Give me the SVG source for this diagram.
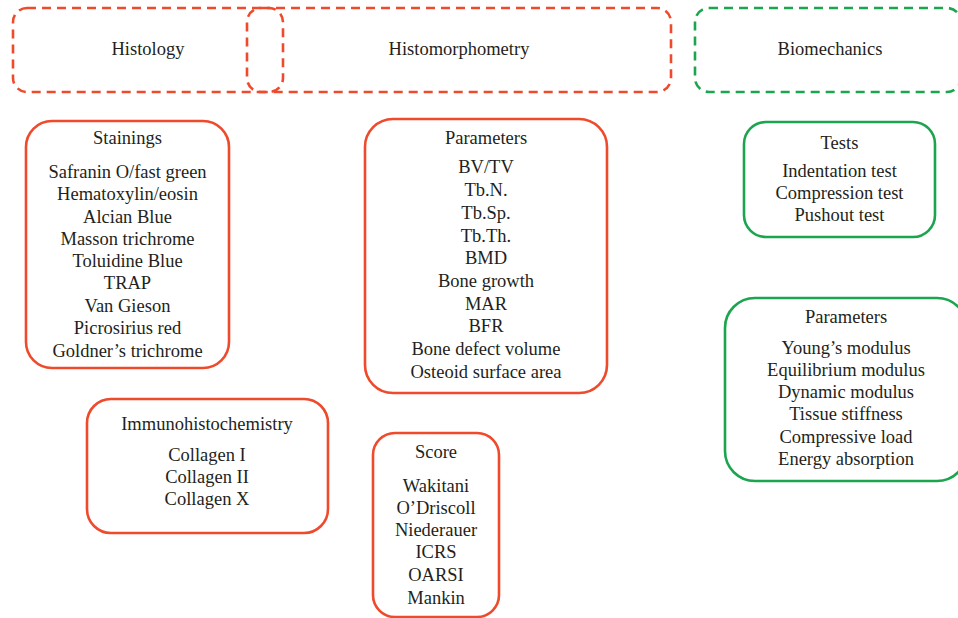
<svg xmlns="http://www.w3.org/2000/svg" width="958" height="618" viewBox="0 0 958 618">
<style>
text{font-family:"Liberation Serif","Times New Roman",serif;font-size:18.5px;fill:#231f20;text-anchor:middle}
.r{fill:none;stroke:#ee4a2b;stroke-width:2.6}
.g{fill:none;stroke:#1ba54f;stroke-width:2.6}
.d{stroke-dasharray:9 6}
</style>
<rect width="958" height="618" fill="#fff"/>
<g id="histology">
<rect class="r d" x="13" y="8" width="270" height="84" rx="14"/>
<text x="148" y="55">Histology</text>
</g>
<g id="histomorphometry">
<rect class="r d" x="247" y="8" width="424" height="84" rx="14"/>
<text x="459" y="55">Histomorphometry</text>
</g>
<g id="biomechanics">
<rect class="g d" x="695" y="8" width="266" height="84" rx="14"/>
<text x="830" y="55">Biomechanics</text>
</g>
<g id="stainings">
<rect class="r" x="26" y="121" width="203" height="247" rx="26"/>
<text x="127.5" y="144">Stainings</text>
<text x="127.5" y="178">Safranin O/fast green</text>
<text x="127.5" y="200">Hematoxylin/eosin</text>
<text x="127.5" y="223">Alcian Blue</text>
<text x="127.5" y="245">Masson trichrome</text>
<text x="127.5" y="267">Toluidine Blue</text>
<text x="127.5" y="289">TRAP</text>
<text x="127.5" y="312">Van Gieson</text>
<text x="127.5" y="334">Picrosirius red</text>
<text x="127.5" y="357">Goldner’s trichrome</text>
</g>
<g id="histo-parameters">
<rect class="r" x="365" y="119" width="242" height="274" rx="28"/>
<text x="486" y="144">Parameters</text>
<text x="486" y="173">BV/TV</text>
<text x="486" y="196">Tb.N.</text>
<text x="486" y="219">Tb.Sp.</text>
<text x="486" y="242">Tb.Th.</text>
<text x="486" y="264">BMD</text>
<text x="486" y="287">Bone growth</text>
<text x="486" y="310">MAR</text>
<text x="486" y="332">BFR</text>
<text x="486" y="355">Bone defect volume</text>
<text x="486" y="378">Osteoid surface area</text>
</g>
<g id="immunohistochemistry">
<rect class="r" x="87" y="399" width="241" height="134" rx="24"/>
<text x="207" y="430">Immunohistochemistry</text>
<text x="207" y="461">Collagen I</text>
<text x="207" y="483">Collagen II</text>
<text x="207" y="505">Collagen X</text>
</g>
<g id="score">
<rect class="r" x="373" y="433" width="126" height="184" rx="22"/>
<text x="436" y="458">Score</text>
<text x="436" y="492">Wakitani</text>
<text x="436" y="514">O’Driscoll</text>
<text x="436" y="536">Niederauer</text>
<text x="436" y="558">ICRS</text>
<text x="436" y="581">OARSI</text>
<text x="436" y="604">Mankin</text>
</g>
<g id="tests">
<rect class="g" x="744" y="122" width="191" height="115" rx="22"/>
<text x="839.5" y="149">Tests</text>
<text x="839.5" y="177">Indentation test</text>
<text x="839.5" y="199">Compression test</text>
<text x="839.5" y="221">Pushout test</text>
</g>
<g id="bio-parameters">
<rect class="g" x="725" y="298" width="242" height="183" rx="30"/>
<text x="846" y="323">Parameters</text>
<text x="846" y="354">Young’s modulus</text>
<text x="846" y="376">Equilibrium modulus</text>
<text x="846" y="398">Dynamic modulus</text>
<text x="846" y="420">Tissue stiffness</text>
<text x="846" y="443">Compressive load</text>
<text x="846" y="465">Energy absorption</text>
</g>
<g id="connectors"></g>
</svg>
